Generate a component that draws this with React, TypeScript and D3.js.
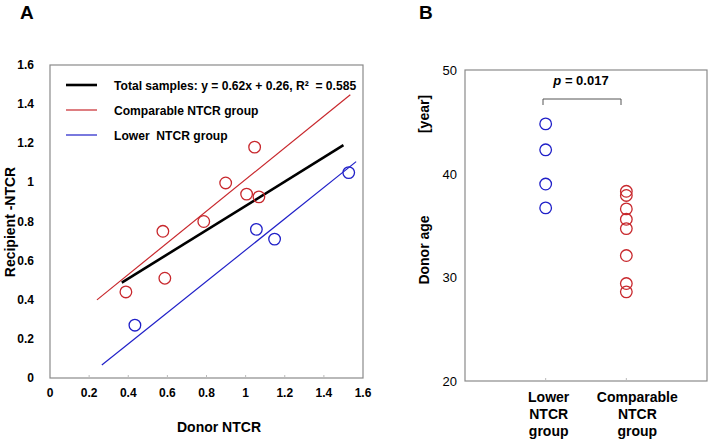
import React from "react";
import * as d3 from "d3";

// Panel A data
const comparableX = [1.046, 0.898, 1.005, 1.068, 0.786, 0.577, 0.587, 0.388];
const comparableY = [1.18, 0.997, 0.94, 0.926, 0.8, 0.75, 0.51, 0.44];
const lowerX = [1.527, 1.055, 1.148, 0.434];
const lowerY = [1.05, 0.76, 0.71, 0.27];
const xTicksA = [0, 0.2, 0.4, 0.6, 0.8, 1, 1.2, 1.4, 1.6];
const yTicksA = [0, 0.2, 0.4, 0.6, 0.8, 1, 1.2, 1.4, 1.6];
// fit lines: [slope, intercept, xStart, xEnd]
const totalFit = [0.62, 0.26, 0.367, 1.5];
const comparableFit = [0.81, 0.205, 0.24, 1.535];
const lowerFit = [0.8, -0.146, 0.265, 1.565];
const legendLabels = [
  "Total samples: y = 0.62x + 0.26, R\u00B2  = 0.585",
  "Comparable NTCR group",
  "Lower  NTCR group",
];

// Panel B data
const groupsB = ["Lower", "Comparable"];
const lowerAges = [44.8, 42.3, 39.0, 36.7];
const comparableAges = [38.3, 37.9, 36.6, 35.6, 34.7, 32.1, 29.4, 28.6];
const yTicksB = [20, 30, 40, 50];

const RED = "#c8282d";
const BLUE = "#2020c8";
const AXIS = "#8a8a8a";
const FONT = "Liberation Sans, Arial, sans-serif";

export default function App() {
  // Panel A scales
  const xA = d3.scaleLinear().domain([0, 1.6]).range([50, 363]);
  const yA = d3.scaleLinear().domain([0, 1.6]).range([378, 65]);
  const fitLine = (f: number[]) => {
    const [m, b, x0, x1] = f;
    return d3.line<number>()
      .x((d) => xA(d))
      .y((d) => yA(m * d + b))([x0, x1]) as string;
  };

  // Panel B scales
  const xB = d3.scalePoint<string>().domain(groupsB).range([465, 707]).padding(1);
  const yB = d3.scaleLinear().domain([20, 50]).range([381, 70]);

  const legendColors = ["#000", RED, BLUE];
  const legendWidths = [2.6, 1.2, 1.2];

  const bx0 = 543, bx1 = 621, byTop = 99, byBot = 105;

  return (
    <svg width={711} height={442} style={{ position: "absolute", left: 0, top: 0, background: "#fff" }} fontFamily={FONT}>
      <rect width={711} height={442} fill="#fff" />
      {/* Panel A */}
      <text x={20} y={19} fontSize={19} fontWeight="bold">A</text>
      <rect x={50} y={65} width={313} height={313} fill="none" stroke={AXIS} strokeWidth={1.2} />
      {xTicksA.slice(1, -1).map((t) => (
        <line key={"xa" + t} x1={xA(t)} x2={xA(t)} y1={378} y2={375} stroke="#bbb" />
      ))}
      {xTicksA.map((t) => (
        <text key={"xl" + t} x={xA(t)} y={397} textAnchor="middle" fontSize={12} fontWeight="bold">{t}</text>
      ))}
      {yTicksA.map((t) => (
        <text key={"yl" + t} x={34} y={yA(t) + 4} textAnchor="end" fontSize={12} fontWeight="bold">{t}</text>
      ))}
      <text x={219} y={432} textAnchor="middle" fontSize={14} fontWeight="bold">Donor NTCR</text>
      <text transform={`translate(15,222) rotate(-90)`} textAnchor="middle" fontSize={14} fontWeight="bold">Recipient -NTCR</text>

      <path d={fitLine(comparableFit)} stroke={RED} strokeWidth={1.2} fill="none" />
      <path d={fitLine(lowerFit)} stroke={BLUE} strokeWidth={1.2} fill="none" />
      <path d={fitLine(totalFit)} stroke="#000" strokeWidth={2.6} fill="none" />

      {comparableX.map((x, i) => (
        <circle key={"ca" + i} cx={xA(x)} cy={yA(comparableY[i])} r={5.8} fill="none" stroke={RED} strokeWidth={1.3} />
      ))}
      {lowerX.map((x, i) => (
        <circle key={"la" + i} cx={xA(x)} cy={yA(lowerY[i])} r={5.8} fill="none" stroke={BLUE} strokeWidth={1.3} />
      ))}

      {legendLabels.map((l, i) => (
        <g key={"lg" + i}>
          <line x1={66} x2={97} y1={85 + i * 25} y2={85 + i * 25} stroke={legendColors[i]} strokeWidth={legendWidths[i]} />
          <text x={114} y={89.5 + i * 25} fontSize={12.1} fontWeight="bold" style={{ whiteSpace: "pre" }}>{l}</text>
        </g>
      ))}

      {/* Panel B */}
      <text x={419} y={19} fontSize={19} fontWeight="bold">B</text>
      <rect x={465} y={70} width={242} height={311} fill="none" stroke={AXIS} strokeWidth={1.2} />
      {groupsB.map((g) => (
        <line key={"tb" + g} x1={xB(g)} x2={xB(g)} y1={381} y2={378} stroke="#bbb" />
      ))}
      {yTicksB.map((t) => (
        <text key={"yb" + t} x={457} y={yB(t) + 5} textAnchor="end" fontSize={13}>{t}</text>
      ))}
      <text transform={`translate(429,250) rotate(-90)`} textAnchor="middle" fontSize={14} fontWeight="bold">Donor age</text>
      <text transform={`translate(429,114) rotate(-90)`} textAnchor="middle" fontSize={14} fontWeight="bold">[year]</text>

      {["Lower", "NTCR", "group"].map((s, i) => (
        <text key={"lb" + i} x={(xB("Lower") as number) + 3} y={402 + i * 17} textAnchor="middle" fontSize={14} fontWeight="bold">{s}</text>
      ))}
      {["Comparable", "NTCR", "group"].map((s, i) => (
        <text key={"cb" + i} x={(xB("Comparable") as number) + 11} y={402 + i * 17} textAnchor="middle" fontSize={14} fontWeight="bold">{s}</text>
      ))}

      <path d={`M${bx0},${byBot}V${byTop}H${bx1}V${byBot}`} fill="none" stroke="#555" strokeWidth={1} />
      <text x={581} y={85} textAnchor="middle" fontSize={13} fontWeight="bold">
        <tspan fontStyle="italic">p</tspan> = 0.017
      </text>

      {lowerAges.map((a, i) => (
        <circle key={"lbc" + i} cx={xB("Lower")} cy={yB(a)} r={5.8} fill="none" stroke={BLUE} strokeWidth={1.3} />
      ))}
      {comparableAges.map((a, i) => (
        <circle key={"cbc" + i} cx={xB("Comparable")} cy={yB(a)} r={5.8} fill="none" stroke={RED} strokeWidth={1.3} />
      ))}
    </svg>
  );
}
